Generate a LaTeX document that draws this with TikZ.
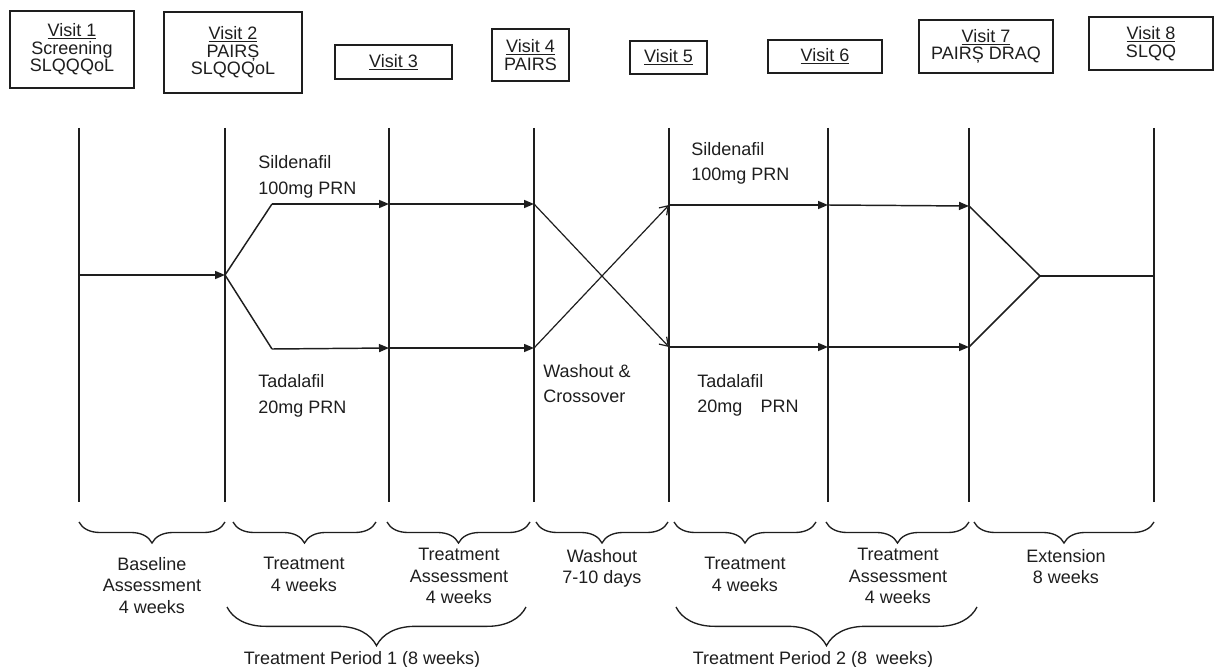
\documentclass[tikz,border=0pt]{standalone}
\usepackage{fontspec}
\setmainfont{Liberation Sans}
\usetikzlibrary{arrows.meta,decorations.pathreplacing}
\definecolor{ink}{RGB}{30,30,30}
\begin{document}
\begin{tikzpicture}[x=0.75pt,y=-0.75pt,
  font=\fontsize{13.5}{16.1}\selectfont,
  visit/.style={draw=ink, line width=1.1pt, inner sep=0pt, align=center, text=ink,
    font=\fontsize{13.5}{13.2}\selectfont},
  vline/.style={draw=ink, line width=1pt},
  flow/.style={draw=ink, line width=1.1pt, -{Triangle[length=7.5pt,width=6pt]}},
  cross/.style={draw=ink, line width=0.9pt, -{Straight Barb[length=6pt,width=8pt]}},
  plain/.style={draw=ink, line width=1.1pt},
  lbl/.style={anchor=north west, inner sep=0pt, align=left, text=ink},
  blbl/.style={anchor=north, inner sep=0pt, align=center, text=ink},
  brc/.style={decorate, decoration={brace,mirror,amplitude=15.75pt}, draw=ink, line width=1pt},
  bigbrc/.style={decorate, decoration={brace,mirror,amplitude=29pt}, draw=ink, line width=1pt}]
\useasboundingbox (0,0) rectangle (1215,667);

% visit boxes
\node[visit, minimum width=124*0.75pt, minimum height=77*0.75pt] (v1) at (72,49.5) {\underline{Visit 1}\\Screening\\SLQQQoL};
\node[visit, minimum width=138*0.75pt, minimum height=81*0.75pt] (v2) at (233,52.5) {\underline{Visit 2}\\PAIRȘ\\SLQQQoL};
\node[visit, minimum width=117*0.75pt, minimum height=34*0.75pt] (v3) at (393.5,62) {\underline{Visit 3}};
\node[visit, minimum width=77*0.75pt, minimum height=52*0.75pt] (v4) at (530.5,55) {\underline{Visit 4}\\PAIRS};
\node[visit, minimum width=77*0.75pt, minimum height=33*0.75pt] (v5) at (668.5,57.5) {\underline{Visit 5}};
\node[visit, minimum width=114*0.75pt, minimum height=33*0.75pt] (v6) at (825,56.5) {\underline{Visit 6}};
\node[visit, minimum width=134*0.75pt, minimum height=53*0.75pt] (v7) at (986,46.5) {\underline{Visit 7}\\PAIRȘ DRAQ};
\node[visit, minimum width=124*0.75pt, minimum height=53*0.75pt] (v8) at (1151,43.5) {\underline{Visit 8}\\SLQQ};

% vertical lines
\foreach \i/\x in {1/79,2/225,3/389,4/534,5/669,6/828,7/969,8/1154}{
  \coordinate (t\i) at (\x,128);
  \coordinate (b\i) at (\x,502);
  \draw[vline] (t\i) -- (b\i);
}

% flow coordinates
\coordinate (s0) at (79,275);
\coordinate (s1) at (225,275);
\coordinate (ua) at (272,204); \coordinate (ub) at (389,204); \coordinate (uc) at (534,204);
\coordinate (la) at (272,349); \coordinate (lb) at (389,348); \coordinate (lc) at (534,348);
\coordinate (ud) at (669,205); \coordinate (ue) at (828,205); \coordinate (uf) at (969,206);
\coordinate (ld) at (669,347); \coordinate (le) at (828,347); \coordinate (lf) at (969,347);
\coordinate (m) at (1040,276); \coordinate (mend) at (1154,276);

\draw[flow] (s0) -- (s1);
\draw[plain] (s1) -- (ua);
\draw[plain] (s1) -- (la);
\draw[flow] (ua) -- (ub);
\draw[flow] (ub) -- (uc);
\draw[flow] (la) -- (lb);
\draw[flow] (lb) -- (lc);
\draw[cross] (uc) -- (ld);
\draw[cross] (lc) -- (ud);
\draw[flow] (ud) -- (ue);
\draw[flow] (ue) -- (uf);
\draw[flow] (ld) -- (le);
\draw[flow] (le) -- (lf);
\draw[plain] (uf) -- (m);
\draw[plain] (lf) -- (m);
\draw[plain] (m) -- (mend);

% drug labels
\node[lbl, font=\fontsize{13.5}{19.5}\selectfont] (sil1) at (258,155) {Sildenafil\\100mg PRN};
\node[lbl, font=\fontsize{13.5}{20}\selectfont] (tad1) at (258,374) {Tadalafil\\20mg PRN};
\node[lbl, font=\fontsize{13.5}{19}\selectfont] (wash) at (543,364) {Washout \&\\Crossover};
\node[lbl, font=\fontsize{13.5}{19}\selectfont] (sil2) at (691,142) {Sildenafil\\100mg PRN};
\node[lbl, font=\fontsize{13.5}{19}\selectfont] (tad2) at (697,374) {Tadalafil\\20mg\hspace{10pt} PRN};

% small braces
\foreach \i/\a/\b in {1/79/225,2/233/376,3/387/530,4/536/668,5/674/816,6/826/969,7/974/1154}{
  \coordinate (bl\i) at (\a,522);
  \coordinate (br\i) at (\b,522);
  \draw[brc] (bl\i) -- (br\i);
}
\node[blbl] (l1) at (152,557) {Baseline\\Assessment\\4 weeks};
\node[blbl] (l2) at (304,557) {Treatment\\4 weeks};
\node[blbl] (l3) at (459,548) {Treatment\\Assessment\\4 weeks};
\node[blbl] (l4) at (602,549) {Washout\\7-10 days};
\node[blbl] (l5) at (745,557) {Treatment\\4 weeks};
\node[blbl] (l6) at (898,548) {Treatment\\Assessment\\4 weeks};
\node[blbl] (l7) at (1066,549) {Extension\\8 weeks};

% big braces
\coordinate (p1a) at (227,607); \coordinate (p1b) at (526,607);
\coordinate (p2a) at (676,607); \coordinate (p2b) at (977,607);
\draw[bigbrc] (p1a) -- (p1b);
\draw[bigbrc] (p2a) -- (p2b);
\node[anchor=base, inner sep=0pt, text=ink] (per1) at (362,664) {Treatment Period 1 (8 weeks)};
\node[anchor=base, inner sep=0pt, text=ink] (per2) at (813,664) {Treatment Period 2 (8\hspace{3pt} weeks)};
\end{tikzpicture}
\end{document}
